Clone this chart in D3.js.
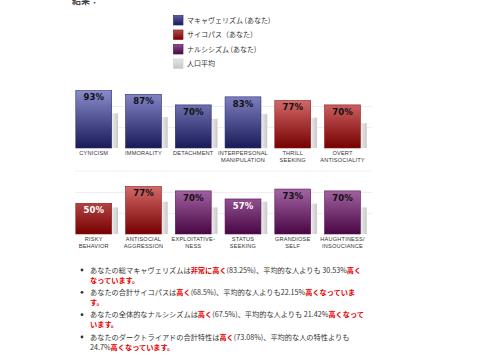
<!DOCTYPE html>
<html><head><meta charset="utf-8">
<script src="https://cdn.jsdelivr.net/npm/d3@7"></script>
<style>
html,body{margin:0;padding:0;background:#fff;}
svg{display:block;}
</style></head>
<body>
<svg id="c" width="480" height="360"></svg>
<script>
// ---- data ----
const categories1 = ["CYNICISM","IMMORALITY","DETACHMENT","INTERPERSONAL|MANIPULATION","THRILL|SEEKING","OVERT|ANTISOCIALITY"];
const values1 = [93, 87, 70, 83, 77, 70];
const average1 = [56, 50, 47, 55, 49, 40];
const series1 = ["mach","mach","mach","mach","psy","psy"];

const categories2 = ["RISKY|BEHAVIOR","ANTISOCIAL|AGGRESSION","EXPLOITATIVE-|NESS","STATUS|SEEKING","GRANDIOSE|SELF","HAUGHTINESS/|INSOUCIANCE"];
const values2 = [50, 77, 70, 57, 73, 70];
const average2 = [43, 52, 43, 52, 49, 43];
const series2 = ["psy","psy","nar","nar","nar","nar"];

const legendLabels = ["マキャヴェリズム (あなた)", "サイコパス（あなた）", "ナルシシズム (あなた)", "人口平均"];
const legendKeys = ["mach","psy","nar","avg"];
const gridValues = [33.3, 67];

const titleText = "結果：";
const bullets = [
  [[["あなたの総マキャヴェリズムは",0],["非常に高く",1],["(83.25%)、平均的な人よりも 30.53%",0],["高く",1]],[["なっています。",1]]],
  [[["あなたの合計サイコパスは",0],["高く",1],["(68.5%)、平均的な人よりも22.15%",0],["高くなっていま",1]],[["す。",1]]],
  [[["あなたの全体的なナルシシズムは",0],["高く",1],["(67.5%)、平均的な人よりも 21.42%",0],["高くなって",1]],[["います。",1]]],
  [[["あなたのダークトライアドの合計特性は",0],["高く",1],["(73.08%)、平均的な人の特性よりも",0]],[["24.7%",0],["高くなっています。",1]]]
];

// ---- styles ----
const palette = {
  mach: {top:"#9294d6", bottom:"#1a1a58", stroke:"#2c2c6e"},
  psy:  {top:"#f08888", bottom:"#760000", stroke:"#8a1a1a"},
  nar:  {top:"#c888c8", bottom:"#480644", stroke:"#5a1656"},
  avg:  {top:"#e8e8e8", bottom:"#c4c4c4", stroke:"#c0c0c0"}
};

const svg = d3.select("#c");
const defs = svg.append("defs");
const FONT = "'Noto Sans CJK JP','Noto Sans',sans-serif";

// title
svg.append("text").attr("x",72).attr("y",4).attr("font-family",FONT).attr("font-size",9)
  .attr("font-weight","bold").attr("fill","#444").text(titleText);

// legend
legendKeys.forEach((k,i)=>{
  const g = defs.append("linearGradient").attr("id","lg_"+k).attr("x1",0).attr("y1",0).attr("x2",0).attr("y2",1);
  g.append("stop").attr("offset","0%").attr("stop-color", k==="avg" ? "#e4e4e4" : d3.interpolateRgb(palette[k].top, palette[k].bottom)(0.45));
  g.append("stop").attr("offset","100%").attr("stop-color", k==="avg" ? "#c6c6c6" : palette[k].bottom);
});
const legendY = d3.scaleLinear().domain([0,3]).range([15, 58.5]);
const lg = svg.append("g");
legendKeys.forEach((k,i)=>{
  lg.append("rect").attr("x",173.5).attr("y",legendY(i)+0.5).attr("width",9.5).attr("height",9.5)
    .attr("fill","url(#lg_"+k+")").attr("stroke", k==="avg" ? "#d0d0d0" : palette[k].stroke).attr("stroke-width",0.7);
  lg.append("text").attr("x",187).attr("y",legendY(i)+7.6).attr("font-family",FONT).attr("font-size",7)
    .attr("fill","#333").text(legendLabels[i]);
});

// charts
const x = d3.scaleBand().domain(d3.range(6)).range([75.5, 374]).paddingInner(0).paddingOuter(0);
const barW = 36.5, avgW = 6;

function drawRow(rowId, baseline, cats, vals, avgs, sers){
  const y = d3.scaleLinear().domain([0,100]).range([baseline, baseline-62]);
  // row gradients
  ["mach","psy","nar"].forEach(k=>{
    const g = defs.append("linearGradient").attr("id",rowId+"_"+k).attr("gradientUnits","userSpaceOnUse")
      .attr("x1",0).attr("x2",0).attr("y1",y(100)).attr("y2",y(0));
    g.append("stop").attr("offset","0%").attr("stop-color",palette[k].top);
    g.append("stop").attr("offset","100%").attr("stop-color",palette[k].bottom);
  });
  const ga = defs.append("linearGradient").attr("id",rowId+"_avg").attr("x1",0).attr("x2",1).attr("y1",0).attr("y2",0);
  ga.append("stop").attr("offset","0%").attr("stop-color","#ececec");
  ga.append("stop").attr("offset","100%").attr("stop-color","#c8c8c8");

  const g = svg.append("g");
  // grid
  g.selectAll("line.grid").data(gridValues).join("line")
    .attr("x1",75).attr("x2",372).attr("y1",d=>y(d)).attr("y2",d=>y(d))
    .attr("stroke","#eeeeee").attr("stroke-width",1);
  // avg bars
  g.selectAll("rect.avg").data(avgs).join("rect")
    .attr("x",(d,i)=>x(i)+barW).attr("width",avgW)
    .attr("y",d=>y(d)).attr("height",d=>y(0)-y(d))
    .attr("fill","url(#"+rowId+"_avg)");
  // value bars
  g.selectAll("rect.val").data(vals).join("rect")
    .attr("x",(d,i)=>x(i)+0.3).attr("width",barW-0.6)
    .attr("y",d=>y(d)+0.3).attr("height",d=>y(0)-y(d)-0.3)
    .attr("fill",(d,i)=>"url(#"+rowId+"_"+sers[i]+")")
    .attr("stroke",(d,i)=>palette[sers[i]].stroke).attr("stroke-width",0.6);
  // value labels
  g.selectAll("text.val").data(vals).join("text")
    .attr("x",(d,i)=>x(i)+barW/2).attr("y",d=>y(d)+10)
    .attr("text-anchor","middle").attr("font-family","'DejaVu Sans',sans-serif").attr("font-weight","bold")
    .attr("font-size",8.5).attr("fill",d=> d<60 ? "#ffffff" : "#111111")
    .text(d=>d+"%");
  // category labels
  cats.forEach((c,i)=>{
    const t = g.append("text").attr("x",x(i)+barW/2).attr("y",baseline+6.6)
      .attr("text-anchor","middle").attr("font-family","'Liberation Sans',sans-serif")
      .attr("font-size",5.6).attr("fill","#333").attr("letter-spacing",0.2);
    c.split("|").forEach((ln,j)=>{
      t.append("tspan").attr("x",x(i)+barW/2).attr("dy", j===0?0:7.4).text(ln);
    });
  });
}
drawRow("r1", 148, categories1, values1, average1, series1);
svg.append("line").attr("x1",75).attr("x2",372).attr("y1",171).attr("y2",171).attr("stroke","#f0f0f0").attr("stroke-width",1);
drawRow("r2", 234, categories2, values2, average2, series2);

// bullets
const bulletTop = d3.scaleLinear().domain([0,3]).range([270, 337]);
bullets.forEach((b,i)=>{
  const cy = bulletTop(i);
  svg.append("circle").attr("cx",82).attr("cy",cy).attr("r",1.4).attr("fill","#333");
  b.forEach((line,j)=>{
    const t = svg.append("text").attr("x",90).attr("y",cy+2.6+j*10)
      .attr("font-family",FONT).attr("font-size",7.2).attr("fill","#333");
    line.forEach(([s,hl])=>{
      t.append("tspan").attr("fill",hl?"#e60000":"#333").attr("font-weight",hl?"bold":"normal").text(s);
    });
  });
});
</script>
</body></html>
